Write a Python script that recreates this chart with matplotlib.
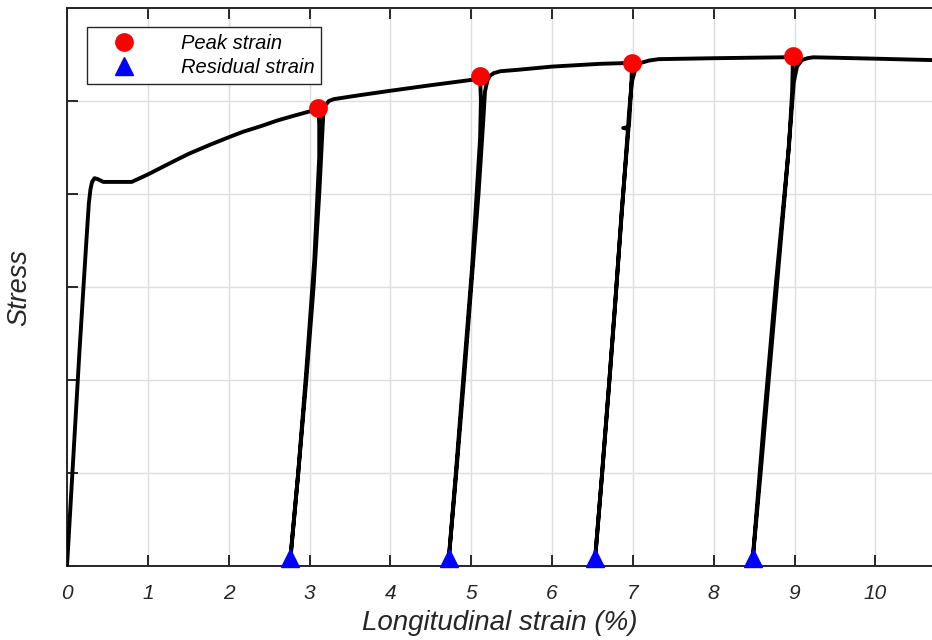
import matplotlib
matplotlib.use('Agg')
import matplotlib.pyplot as plt

# stress-strain path (strain in %, stress in grid units)
strain = [0.00, 0.05, 0.10, 0.15, 0.20, 0.24, 0.27, 0.29, 0.31, 0.34, 0.38, 0.45, 0.80, 0.90, 1.00, 1.27,
          1.50, 1.77, 2.00, 2.18, 2.40, 2.60, 2.80, 3.01, 3.11,
          # unload / reload 1
          3.12, 3.12, 3.06, 2.96, 2.86, 2.76,
          2.86, 2.96, 3.05, 3.12, 3.155, 3.17, 3.20, 3.24, 3.30, 3.45, 3.60, 4.00, 4.50, 5.03, 5.11,
          # unload / reload 2
          5.12, 5.11, 5.01, 4.90, 4.81, 4.72,
          4.815, 4.91, 5.00, 5.09, 5.15, 5.17, 5.20, 5.23, 5.28, 5.36, 5.57, 6.00, 6.60, 6.99,
          # unload / reload 3 (with small glitch)
          6.98, 6.95, 6.88, 6.945, 6.86, 6.78, 6.70, 6.61, 6.53,
          6.62, 6.71, 6.795, 6.88, 6.955, 6.985, 7.03, 7.10, 7.20, 7.32, 8.00, 8.86, 8.98,
          # unload / reload 4
          8.97, 8.93, 8.765, 8.615, 8.48,
          8.58, 8.68, 8.78, 8.88, 8.955, 8.99, 9.03, 9.09, 9.16, 9.23, 9.50, 10.00, 10.70]
stress = [0.00, 0.75, 1.50, 2.25, 2.95, 3.50, 3.90, 4.05, 4.13, 4.17, 4.16, 4.13, 4.13, 4.17, 4.21, 4.33,
          4.43, 4.53, 4.61, 4.67, 4.73, 4.79, 4.84, 4.89, 4.92,
          4.75, 4.40, 3.30, 2.10, 1.00, 0.05,
          1.00, 2.00, 3.00, 4.00, 4.60, 4.85, 4.96, 5.00, 5.02, 5.04, 5.06, 5.11, 5.17, 5.23, 5.26,
          5.00, 4.60, 3.20, 2.00, 1.00, 0.05,
          1.00, 2.00, 3.00, 4.00, 4.80, 5.10, 5.22, 5.27, 5.30, 5.32, 5.335, 5.37, 5.40, 5.41,
          5.15, 4.72, 4.71, 4.70, 3.80, 2.80, 1.90, 0.90, 0.05,
          1.00, 2.00, 3.00, 4.00, 4.90, 5.20, 5.34, 5.41, 5.435, 5.45, 5.46, 5.47, 5.48,
          5.10, 4.50, 3.00, 1.50, 0.05,
          1.00, 2.00, 3.00, 4.00, 4.80, 5.20, 5.37, 5.44, 5.46, 5.47, 5.465, 5.455, 5.44]

peak_strain = [3.11, 5.11, 6.99, 8.98]
peak_stress = [4.92, 5.27, 5.41, 5.48]
resid_strain = [2.76, 4.72, 6.53, 8.48]
resid_stress = [0.09, 0.09, 0.09, 0.09]

xticks = [0, 1, 2, 3, 4, 5, 6, 7, 8, 9, 10]
yticks = [0, 1, 2, 3, 4, 5, 6]

AX_C = '#262626'
FONT = 'Liberation Sans'

fig = plt.figure(figsize=(9.32, 6.4), dpi=100)
ax = fig.add_axes([0.0719, 0.1156, 0.9281, 0.8719])

ax.plot(strain, stress, color='black', lw=2.8, solid_joinstyle='round',
        solid_capstyle='round', zorder=3)
ax.plot(peak_strain, peak_stress, 'o', color='red', ms=12.5, ls='none', zorder=4,
        label='Peak strain')
ax.plot(resid_strain, resid_stress, '^', color='blue', ms=12.5, ls='none', zorder=4,
        label='Residual strain', clip_on=False)

ax.set_xlim(0, 10.7)
ax.set_ylim(0, 6)
ax.set_xticks(xticks)
ax.set_xticklabels([str(t) for t in xticks], fontstyle='italic', fontsize=15,
                   family=FONT, color=AX_C)
ax.set_yticks(yticks)
ax.set_yticklabels([])
ax.tick_params(direction='in', length=8, width=1.4, top=True, right=False,
               color=AX_C, pad=13)
ax.grid(True, color='#dedede', lw=1)
ax.set_axisbelow(True)

ax.spines['right'].set_visible(False)
for s in ['left', 'bottom', 'top']:
    ax.spines[s].set_color(AX_C)
    ax.spines[s].set_linewidth(1.4)

ax.set_xlabel('Longitudinal strain (%)', fontsize=20, fontstyle='italic',
              family=FONT, color=AX_C, labelpad=5)
ax.set_ylabel('Stress', fontsize=19.5, fontstyle='italic',
              family=FONT, color=AX_C, labelpad=12)

leg = ax.legend(loc='upper left', bbox_to_anchor=(0.023, 0.966), borderaxespad=0,
                prop={'family': FONT, 'style': 'italic', 'size': 14.5},
                fancybox=False, framealpha=1, edgecolor=AX_C, handlelength=3.0,
                handletextpad=1.3, borderpad=0.35, labelspacing=0.25)
leg.get_frame().set_linewidth(1.0)

fig.savefig('out.png', dpi=100)
